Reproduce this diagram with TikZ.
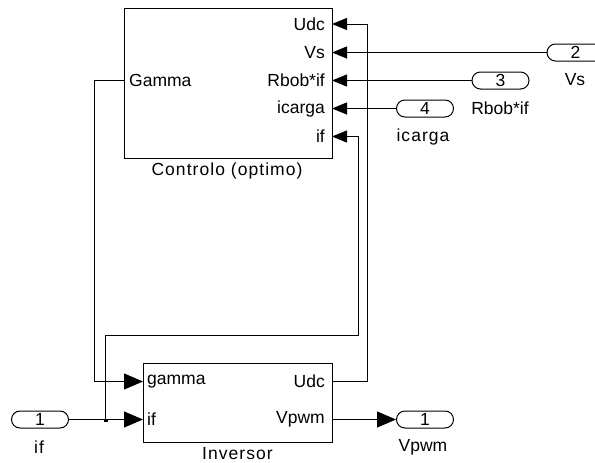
\documentclass[tikz,border=0pt]{standalone}
\usepackage{fontspec}
\setmainfont{Liberation Sans}
\usetikzlibrary{arrows.meta}
\begin{document}
\begin{tikzpicture}[x=1pt,y=-1pt,
  every node/.style={font=\fontsize{17.5}{19}\selectfont, inner sep=0pt},
  blk/.style={draw, line width=1pt, rectangle, minimum width=#1},
  pill/.style={draw, line width=1pt, rounded corners=8.5pt, minimum width=57pt, minimum height=17pt},
  wire/.style={line width=1pt},
  sarr/.style={wire, -{Triangle[length=15pt,width=12pt]}},
  barr/.style={wire, -{Triangle[length=19pt,width=16pt]}},
  spaced/.style={font=\fontsize{17.5}{19}\selectfont\addfontfeature{LetterSpace=6}}
]
\useasboundingbox (0,0) rectangle (595,463);

% Controlo block
\node[blk=208pt, minimum height=150pt] (ctrl) at (228,83) {};
\node[spaced] (ctrlname) at (227,171) {Controlo (optimo)};
\node[anchor=east] (pU) at (325,24) {Udc};
\node[anchor=east] (pV) at (325,52.5) {Vs};
\node[anchor=east] (pR) at (325,80.5) {Rbob*if};
\node[anchor=east] (pI) at (325,108.5) {icarga};
\node[anchor=east] (pF) at (325,136.5) {if};
\node[anchor=west] (pG) at (129,80.5) {Gamma};
\coordinate (cU) at (332,24);
\coordinate (cV) at (332,52.5);
\coordinate (cR) at (332,80.5);
\coordinate (cI) at (332,108.5);
\coordinate (cF) at (332,136.5);
\coordinate (cG) at (124,80.5);

% Inversor block
\node[blk=189pt, minimum height=79pt] (inv) at (237.5,402.5) {};
\node[spaced] (invname) at (237.5,454) {Inversor};
\node[anchor=west] (qg) at (147,381.5) {gamma};
\node[anchor=west] (qf) at (147,419.5) {if};
\node[anchor=east] (qU) at (325,381.5) {Udc};
\node[anchor=east] (qP) at (325,419.5) {Vpwm};
\coordinate (dg) at (143,381.5);
\coordinate (df) at (143,419.5);
\coordinate (dU) at (332,381.5);
\coordinate (dP) at (332,419.5);

% Ports
\node[pill] (in2) at (575.5,52.5) {2};
\node (in2l) at (575,80) {Vs};
\node[pill] (in3) at (500.5,80.5) {3};
\node (in3l) at (500,108.5) {Rbob*if};
\node[pill] (in4) at (425,108.5) {4};
\node[spaced] (in4l) at (423,137) {icarga};
\node[pill] (in1) at (40,419.5) {1};
\node[spaced] (in1l) at (39,447) {if};
\node[pill] (out1) at (425,419.5) {1};
\node (out1l) at (423,447) {Vpwm};

% Connectors
\draw[sarr] (in2.west) -- (cV);
\draw[sarr] (in3.west) -- (cR);
\draw[sarr] (in4.west) -- (cI);
\draw[sarr] (dU) -- (367,381.5) -- (367,24) -- (cU);
\coordinate (br) at (105.5,419.5);
\draw[sarr] (br) -- (105.5,335) -- (358,335) -- (358,136.5) -- (cF);
\draw[barr] (cG) -- (94.5,80.5) -- (94.5,381.5) -- (dg);
\draw[barr] (in1.east) -- (df);
\draw[barr] (dP) -- (out1.west);
\fill (br) ++(-2,-1) rectangle ++(4,3.5);
\end{tikzpicture}
\end{document}
